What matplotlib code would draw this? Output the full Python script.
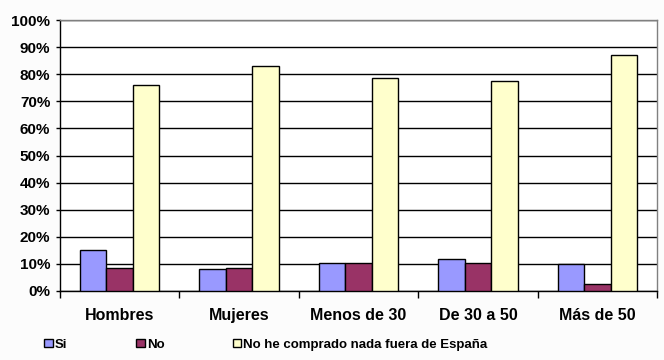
import numpy as np
import matplotlib.pyplot as plt
from matplotlib.ticker import FixedLocator, PercentFormatter

categories = ['Hombres', 'Mujeres', 'Menos de 30', 'De 30 a 50', 'Más de 50']
si = [15.0, 8.0, 10.2, 11.7, 10.0]
no = [8.4, 8.4, 10.2, 10.2, 2.5]
nada = [76.0, 83.0, 78.5, 77.4, 87.1]
series_names = ['Si', 'No', 'No he comprado nada fuera de España']
colors = ['#9999FF', '#993366', '#FFFFCC']

plt.rcParams['font.family'] = ['Liberation Sans', 'DejaVu Sans']

fig = plt.figure(figsize=(6.64, 3.6), dpi=100, facecolor='#fcfcfc')
ax = fig.add_axes([0.0904, 0.1917, 0.8991, 0.7527])

x = np.arange(len(categories))
w = 0.222
for i, (vals, name, c) in enumerate(zip([si, no, nada], series_names, colors)):
    ax.bar(x + (i - 1) * w, vals, w, color=c, edgecolor='black', linewidth=1,
           label=name, zorder=3)

ax.set_xlim(-0.5, len(categories) - 0.5)
ax.set_ylim(0, 100)
ax.set_yticks(np.arange(0, 101, 10))
ax.yaxis.set_major_formatter(PercentFormatter(decimals=0))
ax.yaxis.grid(True, color='black', linewidth=1, zorder=0)
ax.set_axisbelow(True)

ax.set_xticks(x)
ax.set_xticklabels(categories)
ax.xaxis.set_minor_locator(FixedLocator(np.arange(-0.5, len(categories), 1)))
ax.tick_params(axis='x', which='major', length=0, pad=12)
ax.tick_params(axis='x', which='minor', length=5, width=1, color='black')
ax.tick_params(axis='y', length=3, width=1, pad=4)
for lab in ax.get_xticklabels():
    lab.set_fontsize(11.5)
    lab.set_fontweight('bold')
for lab in ax.get_yticklabels():
    lab.set_fontsize(11)
    lab.set_fontweight('bold')

ax.spines['left'].set_color('black')
ax.spines['bottom'].set_color('black')
ax.spines['top'].set_color('#808080')
ax.spines['right'].set_color('#808080')
for s in ax.spines.values():
    s.set_linewidth(1)

fig.legend(loc='center left', bbox_to_anchor=(0.049, 0.043), ncol=3,
           frameon=False, handlelength=0.65, handleheight=0.65,
           handletextpad=0.15, columnspacing=5.2,
           prop={'size': 9.5, 'weight': 'bold'})

fig.savefig('out.png', dpi=100, facecolor=fig.get_facecolor())
